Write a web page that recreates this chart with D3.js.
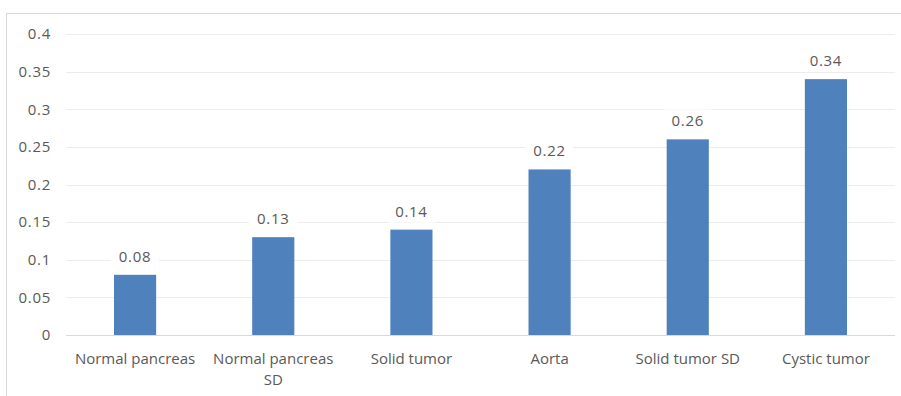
<!DOCTYPE html>
<html>
<head>
<meta charset="utf-8">
<script src="https://cdn.jsdelivr.net/npm/d3@7"></script>
<style>
    body { margin: 0; background: #fff; }
    text { font-family: "Open Sans", "Noto Sans", sans-serif; fill: #595959; }
</style>
</head>
<body>
<div id="chart"></div>
<script>
// chart data
let categories = [['Normal pancreas'], ['Normal pancreas', 'SD'], ['Solid tumor'], ['Aorta'], ['Solid tumor SD'], ['Cystic tumor']];
let values = [0.08, 0.13, 0.14, 0.22, 0.26, 0.34];
let yTicks = [0, 0.05, 0.1, 0.15, 0.2, 0.25, 0.3, 0.35, 0.4];

let width = 901, height = 396;
let plotLeft = 66, plotRight = 895, plotTop = 34, plotBottom = 335;

let svg = d3.select('#chart')
    .append('svg')
    .attr('width', width)
    .attr('height', height);

// outer border of chart area
svg.append('rect')
    .attr('x', 6.5)
    .attr('y', 13.5)
    .attr('width', 900)
    .attr('height', 400)
    .attr('fill', 'none')
    .attr('stroke', '#d9d9d9');

let x = d3.scaleBand()
    .domain(d3.range(categories.length))
    .range([plotLeft, plotRight]);

let y = d3.scaleLinear()
    .domain([0, 0.4])
    .range([plotBottom, plotTop]);

let barWidth = x.bandwidth() * 0.305;

// gridlines
svg.append('g')
    .attr('id', 'gridG')
    .selectAll('line')
    .data(yTicks)
    .join('line')
    .attr('x1', plotLeft)
    .attr('x2', plotRight)
    .attr('y1', d => Math.round(y(d)) + 0.5)
    .attr('y2', d => Math.round(y(d)) + 0.5)
    .attr('stroke', d => d === 0 ? '#d9d9d9' : '#ececec')
    .attr('stroke-width', 1);

// y axis labels
let yAxis = d3.axisLeft(y)
    .tickValues(yTicks)
    .tickFormat(d => String(+d.toFixed(2)))
    .tickSize(0)
    .tickPadding(0);

svg.append('g')
    .attr('transform', 'translate(51,0)')
    .call(yAxis)
    .call(g => g.select('.domain').remove())
    .selectAll('text')
    .attr('font-size', '15px')
    .attr('letter-spacing', '0.7px')
    .attr('fill', '#595959');

// bars
svg.append('g')
    .attr('id', 'barG')
    .selectAll('rect')
    .data(values)
    .join('rect')
    .attr('x', (d, i) => x(i) + x.bandwidth() / 2 - barWidth / 2)
    .attr('y', d => y(d))
    .attr('width', barWidth)
    .attr('height', d => y(0) - y(d))
    .attr('fill', '#4f81bd');

// data labels with white backing like the original
let labelG = svg.append('g').attr('id', 'labelG');
labelG.selectAll('rect')
    .data(values)
    .join('rect')
    .attr('x', (d, i) => x(i) + x.bandwidth() / 2 - 24)
    .attr('y', d => y(d) - 30)
    .attr('width', 48)
    .attr('height', 23)
    .attr('fill', '#fff');

labelG.selectAll('text')
    .data(values)
    .join('text')
    .attr('x', (d, i) => x(i) + x.bandwidth() / 2)
    .attr('y', d => y(d) - 13)
    .attr('text-anchor', 'middle')
    .attr('font-size', '15px')
    .attr('letter-spacing', '0.7px')
    .text(d => d.toFixed(2));

// category labels
svg.append('g')
    .attr('id', 'catG')
    .selectAll('text')
    .data(categories)
    .join('text')
    .attr('x', (d, i) => x(i) + x.bandwidth() / 2)
    .attr('y', 364)
    .attr('text-anchor', 'middle')
    .attr('font-size', '15px')
    .selectAll('tspan')
    .data(d => d)
    .join('tspan')
    .attr('x', function() { return d3.select(this.parentNode).attr('x'); })
    .attr('dy', (d, i) => i === 0 ? 0 : 21)
    .text(d => d);
</script>
</body>
</html>
